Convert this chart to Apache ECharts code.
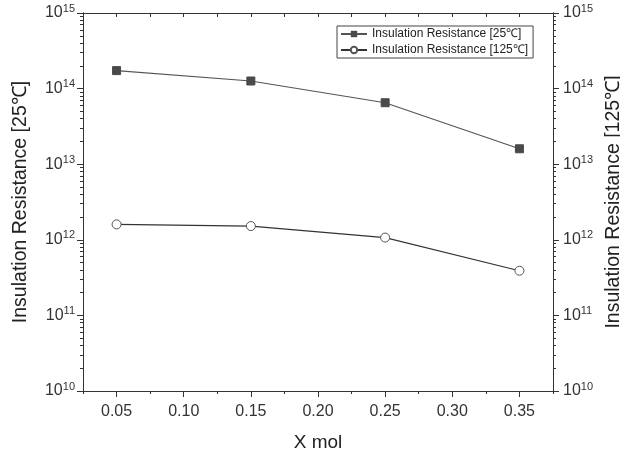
<!DOCTYPE html>
<html>
<head>
<meta charset="utf-8">
<script src="https://cdn.jsdelivr.net/npm/echarts@6/dist/echarts.min.js"></script>
<style>
  html, body { margin: 0; padding: 0; background: #fff; }
  #chart { width: 620px; height: 456px; }
</style>
</head>
<body>
<div id="chart"></div>
<script>
// data
const xMol = [0.05, 0.15, 0.25, 0.35]
const ir25 = [1.73e14, 1.26e14, 6.5e13, 1.6e13]
const ir125 = [1.6e12, 1.52e12, 1.07e12, 3.9e11]
const xTicks = [0.05, 0.10, 0.15, 0.20, 0.25, 0.30, 0.35]
const xMin = 0.025
const xMax = 0.375
const yMin = 1e10
const yMax = 1e15
// log minor ticks: 2..9 in each decade
const mantissas = [2, 3, 4, 5, 6, 7, 8, 9]
const decades = [10, 11, 12, 13, 14]

const seriesNames = ['Insulation Resistance [25\u2103]', 'Insulation Resistance [125\u2103]']
const leftTitle = 'Insulation Resistance [25\u2103]'
const rightTitle = 'Insulation Resistance [125\u2103]'
const xTitle = 'X mol'

const font = 'Liberation Sans, Arial, sans-serif'
const axisColor = '#333'

// log-axis customValues get filtered out, so the short ticks go on a
// plain value axis that runs over the exponents 10..15
const minorExp = []
decades.forEach(d => mantissas.forEach(m => minorExp.push(d + Math.log10(m))))

const chart = echarts.init(document.getElementById('chart'))

// 10^n labels with superscript
function powLabel(v) {
  const e = Math.round(Math.log10(v))
  return '{a|10}{b|' + e + '}'
}
const powRich = {
  a: { fontSize: 16, fontFamily: font, color: '#333' },
  b: { fontSize: 11, fontFamily: font, color: '#333', padding: [0, 0, 9, 0] }
}

function logAxis(pos, title, gap, margin) {
  return {
    type: 'log',
    logBase: 10,
    position: pos,
    min: yMin,
    max: yMax,
    name: title,
    nameLocation: 'middle',
    nameGap: gap,
    nameTextStyle: { fontSize: 19.5, fontFamily: font, color: '#222' },
    axisLine: { show: true, lineStyle: { color: axisColor, width: 1 } },
    axisTick: { show: true, inside: false, length: 6, lineStyle: { color: axisColor } },
    splitLine: { show: false },
    axisLabel: { margin: margin, formatter: powLabel, rich: powRich }
  }
}

function minorAxis(pos) {
  return {
    type: 'value',
    position: pos,
    min: 10,
    max: 15,
    axisLine: { show: true, onZero: false, lineStyle: { color: axisColor } },
    axisTick: { show: true, inside: false, length: 3, customValues: minorExp, lineStyle: { color: axisColor } },
    axisLabel: { show: false },
    splitLine: { show: false }
  }
}

chart.setOption({
  animation: false,
  backgroundColor: '#fff',
  grid: { left: 83, right: 67, top: 13, bottom: 65, containLabel: false, outerBoundsMode: 'none' },
  legend: {
    orient: 'vertical',
    left: 337,
    top: 26,
    padding: [2, 5, 2, 3],
    itemGap: 4,
    itemWidth: 26,
    itemHeight: 8,
    borderColor: '#444',
    borderWidth: 1,
    borderRadius: 0,
    textStyle: { fontSize: 12, fontFamily: font, color: '#222' },
    data: seriesNames
  },
  xAxis: [
    {
      type: 'value',
      position: 'bottom',
      min: xMin,
      max: xMax,
      interval: 0.025,
      name: xTitle,
      nameLocation: 'middle',
      nameGap: 42,
      nameTextStyle: { fontSize: 19, fontFamily: font, color: '#222' },
      axisLine: { show: true, onZero: false, lineStyle: { color: axisColor } },
      axisTick: { show: true, length: 3, lineStyle: { color: axisColor } },
      splitLine: { show: false },
      axisLabel: {
        margin: 13,
        fontSize: 16,
        fontFamily: font,
        color: '#333',
        customValues: xTicks,
        formatter: v => v.toFixed(2)
      }
    },
    {
      // longer ticks at the labelled positions
      type: 'value',
      position: 'bottom',
      min: xMin,
      max: xMax,
      axisLine: { show: true, onZero: false, lineStyle: { color: axisColor } },
      axisTick: { show: true, inside: false, length: 6, customValues: xTicks, lineStyle: { color: axisColor } },
      axisLabel: { show: false },
      splitLine: { show: false }
    },
    {
      // top frame
      type: 'value',
      position: 'top',
      min: xMin,
      max: xMax,
      interval: 0.025,
      axisLine: { show: true, onZero: false, lineStyle: { color: axisColor } },
      axisTick: { show: true, inside: true, length: 4, lineStyle: { color: axisColor } },
      axisLabel: { show: false },
      splitLine: { show: false }
    }
  ],
  yAxis: [
    logAxis('left', leftTitle, 52, 8),
    logAxis('right', rightTitle, 45, 10),
    minorAxis('left'),
    minorAxis('right')
  ],
  series: [
    {
      name: seriesNames[0],
      type: 'line',
      xAxisIndex: 0,
      yAxisIndex: 0,
      data: xMol.map((x, i) => [x, ir25[i]]),
      symbol: 'rect',
      symbolSize: 8,
      itemStyle: { color: '#4a4a4a', borderColor: '#4a4a4a' },
      lineStyle: { color: '#555', width: 1.2 }
    },
    {
      name: seriesNames[1],
      type: 'line',
      xAxisIndex: 0,
      yAxisIndex: 1,
      data: xMol.map((x, i) => [x, ir125[i]]),
      symbol: 'circle',
      symbolSize: 9,
      itemStyle: { color: '#fff', borderColor: '#555', borderWidth: 1 },
      lineStyle: { color: '#333', width: 1.2 }
    }
  ]
})
</script>
</body>
</html>
